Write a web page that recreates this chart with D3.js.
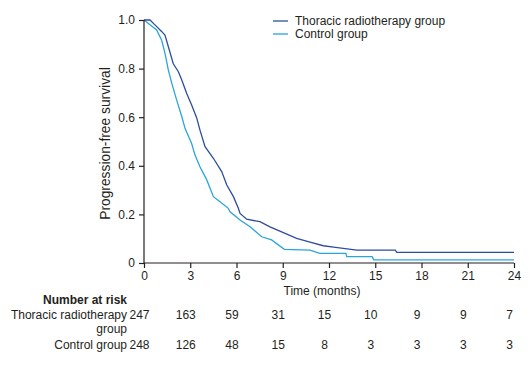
<!DOCTYPE html>
<html><head><meta charset="utf-8">
<script src="https://cdn.jsdelivr.net/npm/d3@7"></script>
<style>body{margin:0;background:#fff}svg{display:block;font-family:"Liberation Sans",Arial,sans-serif}</style>
</head><body><svg id="c" width="532" height="367"></svg>
<script>
const seriesNames = ["Thoracic radiotherapy group", "Control group"];
const thoracicTime = [0,0.39,0.71,1.14,1.36,1.58,1.9,2.23,2.45,2.77,3.09,3.42,3.63,3.96,4.5,5.04,5.37,5.8,6.12,6.23,6.66,7.52,8.17,9.04,9.9,10.77,11.63,12.3,13.8,16.3,16.4,24];
const thoracicSurv = [1.0,1.0,0.98,0.953,0.938,0.89,0.82,0.787,0.753,0.698,0.65,0.597,0.547,0.479,0.431,0.376,0.321,0.273,0.225,0.204,0.18,0.17,0.149,0.125,0.101,0.086,0.071,0.065,0.053,0.053,0.044,0.044];
const controlTime = [0,0.39,0.82,1.14,1.36,1.58,1.8,2.12,2.45,2.66,3.09,3.31,3.63,4.07,4.5,4.93,5.47,5.58,6.23,6.88,7.63,8.28,9.1,10.77,11.4,13.1,13.15,14.8,14.9,24];
const controlSurv = [1.0,0.98,0.959,0.918,0.864,0.794,0.74,0.67,0.603,0.554,0.492,0.444,0.396,0.342,0.273,0.252,0.225,0.211,0.177,0.149,0.108,0.095,0.056,0.053,0.04,0.04,0.026,0.026,0.013,0.013];
const xTicks = [0,3,6,9,12,15,18,21,24];
const yTicks = [0,0.2,0.4,0.6,0.8,1.0];
const yTickLabels = ["0","0.2","0.4","0.6","0.8","1.0"];
const riskTimes = [0,3,6,9,12,15,18,21,24];
const riskThoracic = [247,163,59,31,15,10,9,9,7];
const riskControl = [248,126,48,15,8,3,3,3,3];
const colors = ["#2d4e9c","#2aa5d9"];

const svg = d3.select("#c");
const x = d3.scaleLinear().domain([0,24]).range([144,514]);
const y = d3.scaleLinear().domain([0,1]).range([263,20]);
const ink = "#231f20";

const line = d3.line().x(d=>x(d[0])).y(d=>y(d[1])).curve(d3.curveLinear);
const series = [
  d3.zip(thoracicTime, thoracicSurv),
  d3.zip(controlTime, controlSurv)
];
[1,0].forEach(i=>{
  svg.append("path").attr("d", line(series[i])).attr("fill","none")
    .attr("stroke", colors[i]).attr("stroke-width",1.3);
});

const yAxis = d3.axisLeft(y).tickValues(yTicks).tickFormat((d,i)=>yTickLabels[i]).tickSize(5).tickPadding(4);
const gy = svg.append("g").attr("transform","translate(144,0)").call(yAxis);
const xAxis = d3.axisBottom(x).tickValues(xTicks).tickSize(5).tickPadding(3);
const gx = svg.append("g").attr("transform","translate(0,263)").call(xAxis);
[gx,gy].forEach(g=>{
  g.select(".domain").attr("stroke",ink).attr("stroke-width",1.2);
  g.selectAll(".tick line").attr("stroke",ink).attr("stroke-width",1.2);
  g.selectAll(".tick text").attr("fill",ink).style("font-size","12px").style("font-family","Liberation Sans, Arial, sans-serif");
});
gy.select(".domain").attr("d","M0,263V20");
gx.select(".domain").attr("d","M144,0H514");

svg.append("text").attr("x",322).attr("y",295).attr("text-anchor","middle")
  .attr("fill",ink).style("font-size","12px").text("Time (months)");
svg.append("text").attr("transform","translate(110,143.5) rotate(-90)").attr("text-anchor","middle")
  .attr("fill",ink).style("font-size","13.8px").text("Progression-free survival");

seriesNames.forEach((n,i)=>{
  const ly = 21 + i*13;
  svg.append("line").attr("x1",273).attr("x2",288).attr("y1",ly).attr("y2",ly)
    .attr("stroke",colors[i]).attr("stroke-width",1.3);
  svg.append("text").attr("x",295).attr("y",ly+4.3).attr("fill",ink)
    .style("font-size","12px").text(n);
});

svg.append("text").attr("x",127).attr("y",304).attr("text-anchor","end")
  .attr("fill",ink).style("font-size","12px").style("font-weight","bold").text("Number at risk");
svg.append("text").attr("x",127).attr("y",318.5).attr("text-anchor","end")
  .attr("fill",ink).style("font-size","12px").text("Thoracic radiotherapy");
svg.append("text").attr("x",127).attr("y",333).attr("text-anchor","end")
  .attr("fill",ink).style("font-size","12px").text("group");
svg.append("text").attr("x",127).attr("y",349).attr("text-anchor","end")
  .attr("fill",ink).style("font-size","12px").text("Control group");
[[riskThoracic,318.5],[riskControl,349]].forEach(([arr,yy])=>{
  svg.append("g").selectAll("text").data(arr).join("text")
    .attr("x",(d,i)=>x(riskTimes[i])-4.5).attr("y",yy).attr("text-anchor","middle")
    .attr("fill",ink).style("font-size","12px").text(d=>d);
});
</script></body></html>
